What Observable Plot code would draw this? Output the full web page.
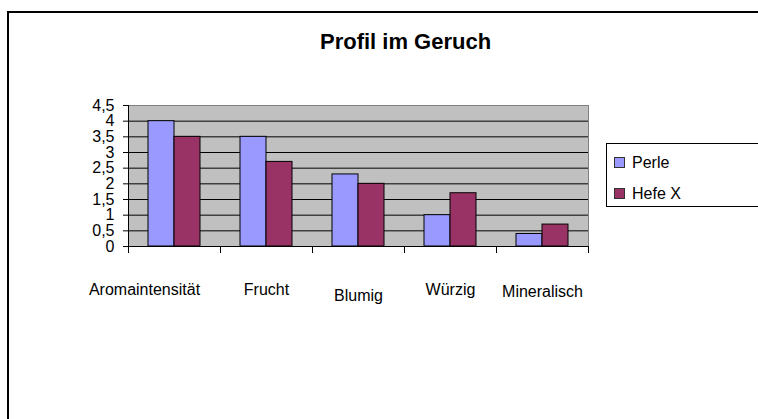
<!DOCTYPE html>
<html><head><meta charset="utf-8">
<script src="https://cdn.jsdelivr.net/npm/d3@7"></script>
<script src="https://cdn.jsdelivr.net/npm/@observablehq/plot@0.6"></script>
<style>
body{margin:0;background:#fff;overflow:hidden;}
#wrap{position:relative;width:758px;height:419px;overflow:hidden;font-family:"Liberation Sans",Arial,sans-serif;color:#000;}
#wrap svg{position:absolute;left:0;top:0;}
#border{position:absolute;left:7px;top:11px;width:800px;height:500px;border:2px solid #000;box-sizing:border-box;}
#title{position:absolute;left:320px;top:29px;font-weight:bold;font-size:22px;white-space:nowrap;}
#legend{position:absolute;left:606px;top:143px;width:200px;height:64px;border:1px solid #000;box-sizing:border-box;background:#fff;}
.item{position:absolute;left:7px;font-size:16px;line-height:16px;white-space:nowrap;}
.sw{display:inline-block;width:9px;height:9px;border:1px solid #333;margin-right:7px;vertical-align:0px;}
</style></head>
<body>
<div id="wrap">
  <div id="border"></div>
  <div id="chart"></div>
  <div id="title"></div>
  <div id="legend"></div>
</div>
<script>
const categories = ["Aromaintensität", "Frucht", "Blumig", "Würzig", "Mineralisch"];
const series = ["Perle", "Hefe X"];
const perle = [4, 3.5, 2.3, 1, 0.4];
const hefeX = [3.5, 2.7, 2, 1.7, 0.7];
const yTicks = [0, 0.5, 1, 1.5, 2, 2.5, 3, 3.5, 4, 4.5];
const colors = ["#9999ff", "#993366"];
const titleText = "Profil im Geruch";

const values = [perle, hefeX];
const data = categories.flatMap((c, i) => series.map((s, j) => ({cat: c, s, v: values[j][i]})));

const W = 758, Ht = 419, mL = 126, mR = 168, mT = 105, mB = 173;
const innerH = Ht - mT - mB;

const chart = Plot.plot({
  width: W, height: Ht,
  marginLeft: mL, marginRight: mR, marginTop: mT, marginBottom: mB,
  style: {fontFamily: "'Liberation Sans', Arial, sans-serif", fontSize: "16px", color: "#000", background: "transparent", overflow: "visible"},
  fx: {domain: categories, padding: 0, label: null},
  x: {domain: series, paddingInner: 0, paddingOuter: 0.74, axis: null},
  y: {domain: [0, 4.5]},
  color: {domain: series, range: colors},
  marks: [
    Plot.frame({fill: "#c0c0c0", stroke: "none", shapeRendering: "crispEdges", insetRight: -0.5}),
    Plot.ruleY(yTicks.slice(1, -1), {stroke: "#000"}),
    Plot.ruleY([yTicks[yTicks.length - 1]], {stroke: "#808080"}),
    Plot.frame({anchor: "right", facetAnchor: "right", stroke: "#808080"}),
    Plot.barY(data, {fx: "cat", x: "s", y: "v", fill: "s", stroke: "#000", strokeWidth: 1}),
    Plot.ruleY([0], {stroke: "#000"}),
    Plot.frame({anchor: "left", facetAnchor: "left", stroke: "#000"}),
    Plot.frame({anchor: "left", insetTop: innerH, insetBottom: -6, stroke: "#000"}),
    Plot.frame({anchor: "right", facetAnchor: "right", insetTop: innerH, insetBottom: -6, stroke: "#000"}),
    Plot.axisY({ticks: yTicks, tickFormat: d => String(d).replace(".", ","), tickSize: 5, tickPadding: 9, fontSize: 16, label: null}),
    Plot.axisFx({anchor: "bottom", tickSize: 0, tickPadding: 37, fontSize: 16, label: null})
  ]
});
document.getElementById("chart").appendChild(chart);
document.getElementById("title").textContent = titleText;

// Excel-like staggered placement of category labels
const shift = (el, dx, dy) => {
  const t = el.getAttribute("transform") || "";
  el.setAttribute("transform", (t + ` translate(${dx},${dy})`).trim());
};
const fxLabels = chart.querySelectorAll('[aria-label="fx-axis tick label"] text');
if (fxLabels.length === categories.length) {
  shift(fxLabels[0], -30, 0);
  shift(fxLabels[2], 0, 6);
  shift(fxLabels[4], 0, 2);
}

const legend = document.getElementById("legend");
series.forEach((s, i) => {
  const it = document.createElement("div");
  it.className = "item";
  it.style.top = (11 + i * 31) + "px";
  it.innerHTML = `<span class="sw" style="background:${colors[i]}"></span>`;
  it.appendChild(document.createTextNode(s));
  legend.appendChild(it);
});
</script>
</body></html>
